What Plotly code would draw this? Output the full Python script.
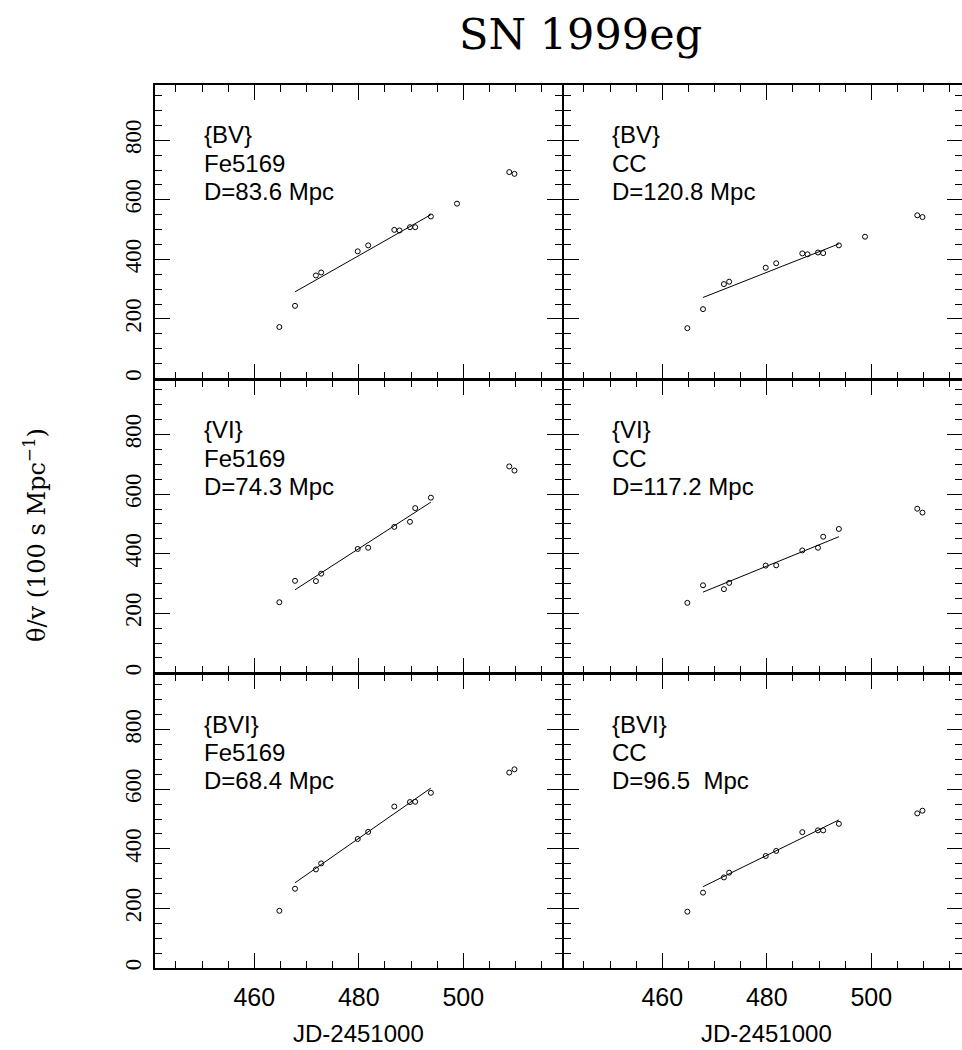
import plotly.graph_objects as go
from plotly.subplots import make_subplots

# ---------------- data ----------------
epochs = [464.8, 467.8, 471.8, 472.8, 479.8, 481.8, 486.8, 487.8,
          489.8, 490.8, 493.8, 498.8, 508.8, 509.8]

bv_fe = [173, 244, 346, 356, 427, 447, 499, 497, 508, 508, 544, 587, 693, 687]
bv_cc = [169, 233, 317, 325, 372, 387, 420, 417, 423, 421, 447, 476, 548, 542]
vi_fe = [237, 309, 308, 333, 416, 420, 490, None, 507, 553, 588, None, 693, 679]
vi_cc = [235, 294, 281, 302, 360, 361, 411, None, 420, 457, 483, None, 551, 538]
bvi_fe = [192, 266, 331, 351, 433, 457, 542, None, 557, 558, 588, None, 656, 667]
bvi_cc = [189, 253, 304, 320, 376, 393, 456, None, 462, 462, 484, None, 519, 528]

fit_x = [467.8, 493.8]
bv_fe_fit = [291, 550]
bv_cc_fit = [272, 452]
vi_fe_fit = [279, 573]
vi_cc_fit = [271, 457]
bvi_fe_fit = [286, 604]
bvi_cc_fit = [273, 497]

bands = ["{BV}", "{BV}", "{VI}", "{VI}", "{BVI}", "{BVI}"]
methods = ["Fe5169", "CC", "Fe5169", "CC", "Fe5169", "CC"]
dists = ["D=83.6 Mpc", "D=120.8 Mpc", "D=74.3 Mpc", "D=117.2 Mpc",
         "D=68.4 Mpc", "D=96.5\u00a0 Mpc"]

series = [bv_fe, bv_cc, vi_fe, vi_cc, bvi_fe, bvi_cc]
fits = [bv_fe_fit, bv_cc_fit, vi_fe_fit, vi_cc_fit, bvi_fe_fit, bvi_cc_fit]

x_ticks = [460, 480, 500]
y_ticks = [0, 200, 400, 600, 800]
x_title = "JD-2451000"

# ---------------- figure ----------------
W, H = 962, 1050
ML, MR, MT, MB = 155, 0, 85, 82
left_w = 408
px_per_unit = 5.225
x0 = 441.0
plot_w = W - ML - MR
plot_h = H - MT - MB
LW = 1.6                      # axis line width
half = LW / 2
row_h = plot_h / 3

x_domains = [[0, (left_w - half) / plot_w], [(left_w + half) / plot_w, 1]]
y_domains = [[(2 * row_h + half) / plot_h, 1],
             [(row_h + half) / plot_h, (2 * row_h - half) / plot_h],
             [0, (row_h - half) / plot_h]]

fig = make_subplots(rows=3, cols=2, horizontal_spacing=0, vertical_spacing=0,
                    column_widths=[left_w, plot_w - left_w])

for i in range(6):
    r, c = i // 2 + 1, i % 2 + 1
    fig.add_trace(go.Scatter(x=epochs, y=series[i], mode="markers",
                             marker=dict(symbol="circle-open", size=5,
                                         color="black", line=dict(width=1, color="black")),
                             showlegend=False, hoverinfo="skip"), row=r, col=c)
    fig.add_trace(go.Scatter(x=fit_x, y=fits[i], mode="lines",
                             line=dict(color="black", width=1),
                             showlegend=False, hoverinfo="skip"), row=r, col=c)
    xa = "x" if i == 0 else f"x{i+1}"
    ya = "y" if i == 0 else f"y{i+1}"
    for k, txt in enumerate([bands[i], methods[i], dists[i]]):
        fig.add_annotation(x=450, xref=xa, y=1 - (50 + 28.3 * k) / row_h,
                           yref=f"{ya} domain", text=txt, showarrow=False,
                           xanchor="left", yanchor="middle",
                           font=dict(family="Liberation Sans, Arial", size=24, color="black"))
    if r == 3:
        fig.add_annotation(x=480, xref=xa, y=(968 - 1033) / plot_h,
                           yref="paper", text=x_title, showarrow=False,
                           xanchor="center", yanchor="middle",
                           font=dict(family="Liberation Sans, Arial", size=24, color="black"))

axis_common = dict(showline=True, linewidth=LW, linecolor="black", mirror="ticks",
                   ticks="inside", tickwidth=1, tickcolor="black", ticklen=15,
                   showgrid=False, zeroline=False, automargin=False)

for i in range(6):
    r, c = i // 2 + 1, i % 2 + 1
    xd = x_domains[c - 1]
    yd = y_domains[r - 1]
    left_px = xd[0] * plot_w
    width_px = (xd[1] - xd[0]) * plot_w
    xs = x0 + (left_px - (0 if c == 1 else left_w)) / px_per_unit
    fig.update_xaxes(axis_common, row=r, col=c, domain=xd,
                     range=[xs, xs + width_px / px_per_unit],
                     tickmode="array", tickvals=x_ticks,
                     ticktext=[str(v) for v in x_ticks],
                     showticklabels=(r == 3),
                     tickfont=dict(family="Liberation Sans, Arial", size=25, color="black"),
                     ticklabelstandoff=6,
                     minor=dict(ticks="inside", ticklen=7, dtick=5, tick0=440,
                                tickwidth=1, tickcolor="black", showgrid=False))
    fig.update_yaxes(axis_common, row=r, col=c, domain=yd,
                     range=[0, 988 * (yd[1] - yd[0]) * plot_h / row_h],
                     tickmode="array", tickvals=y_ticks,
                     ticktext=[str(v) for v in y_ticks],
                     showticklabels=(c == 1),
                     tickangle=-90,
                     tickfont=dict(family="Liberation Serif, serif", size=23, color="black"),
                     ticklabelstandoff=3,
                     minor=dict(ticks="inside", ticklen=7, dtick=50, tick0=0,
                                tickwidth=1, tickcolor="black", showgrid=False))

fig.add_annotation(text="SN 1999eg", xref="paper", yref="paper",
                   x=(580 - ML) / plot_w, y=(H - MB - 34) / plot_h,
                   xanchor="center", yanchor="middle", showarrow=False,
                   font=dict(family="DejaVu Serif", size=43, color="black"))

fig.add_annotation(text="\u03b8/v (100 s Mpc<sup>\u22121</sup>)", xref="paper", yref="paper",
                   x=(35 - ML) / plot_w, y=(H - MB - 535) / plot_h,
                   xanchor="center", yanchor="middle", textangle=-90, showarrow=False,
                   font=dict(family="DejaVu Serif", size=24, color="black"))

fig.update_layout(width=W, height=H, margin=dict(l=ML, r=MR, t=MT, b=MB, autoexpand=False),
                  paper_bgcolor="white", plot_bgcolor="white", showlegend=False)

fig.write_html("out.html", config={"displayModeBar": False},
               post_script="document.body.style.margin='0';document.body.style.overflow='hidden';")
